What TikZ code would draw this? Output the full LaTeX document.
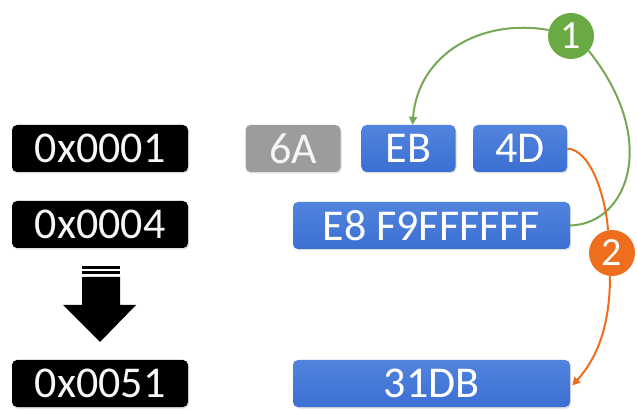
\documentclass[tikz,border=0pt]{standalone}
\usepackage{fontspec}
\setmainfont{Carlito}
\usetikzlibrary{arrows.meta,shadows}
\definecolor{boxblue}{HTML}{3B6FD2}
\definecolor{boxbluetop}{HTML}{5283DE}
\definecolor{boxgray}{HTML}{9C9C9C}
\definecolor{grn}{HTML}{6AAA45}
\definecolor{grnline}{HTML}{74A856}
\definecolor{org}{HTML}{EE6E1E}
\begin{document}
\begin{tikzpicture}[x=1pt,y=-1pt,
  base/.style={rounded corners=5pt, minimum height=47pt, inner sep=0pt, text=white,
    font=\fontsize{44}{44}\selectfont, drop shadow={shadow xshift=1pt,shadow yshift=-1.5pt,opacity=0.25}},
  addr/.style={base, fill=black, minimum width=176pt, text=white!94!gray},
  byte/.style={base, top color=boxbluetop, bottom color=boxblue, minimum width=94pt},
  gbyte/.style={base, fill=boxgray, text=white!92!gray, minimum width=95pt},
  wide/.style={base, top color=boxbluetop, bottom color=boxblue, minimum width=277pt},
  badge/.style={circle, minimum size=46pt, inner sep=0pt, text=white, font=\fontsize{40}{40}\selectfont},
  gline/.style={draw=grnline, line width=2pt},
  oline/.style={draw=org, line width=2pt},
  tip/.style={-{Triangle[length=8pt,width=8pt]}}
]
\useasboundingbox (0,0) rectangle (637,411);
\fill[white] (0,0) rectangle (637,411);

\node[addr] (a1) at (100,148.5) {0x0001};
\node[addr] (a4) at (100,224.5) {0x0004};
\node[addr] (a51) at (100,383.5) {0x0051};

\node[gbyte] (b6a) at (293,148.5) {6A};
\node[byte] (beb) at (408.5,148.5) {EB};
\node[byte] (b4d) at (520,148.5) {4D};
\node[wide] (be8) at (431.5,225.5) {E8 F9FFFFFF};
\node[wide] (bdb) at (431.5,383.5) {31DB};

\node[badge, fill=grn] (c1) at (571,36) {1};
\node[badge, fill=org] (c2) at (612,253) {2};

% block arrow
\fill[black] (82,266.5) rectangle (120,269.5);
\fill[black] (82,271.5) rectangle (120,274.5);
\fill[black] (82,277) -- (120,277) -- (120,305) -- (136,305) -- (100,342) -- (63,305) -- (82,305) -- cycle;

% green connectors
\draw[gline] (be8.east) .. controls (628,224) and (660,140) .. (c1.-40);
\draw[gline, tip] (c1.165) .. controls (480,18) and (418,55) .. ([xshift=4pt]beb.north);

% orange connectors
\draw[oline] (b4d.east) .. controls (592,150) and (606,200) .. (c2.100);
\draw[oline, tip] (c2.-95) .. controls (610,320) and (600,355) .. ([xshift=2pt,yshift=-2pt]bdb.east);
\end{tikzpicture}
\end{document}
